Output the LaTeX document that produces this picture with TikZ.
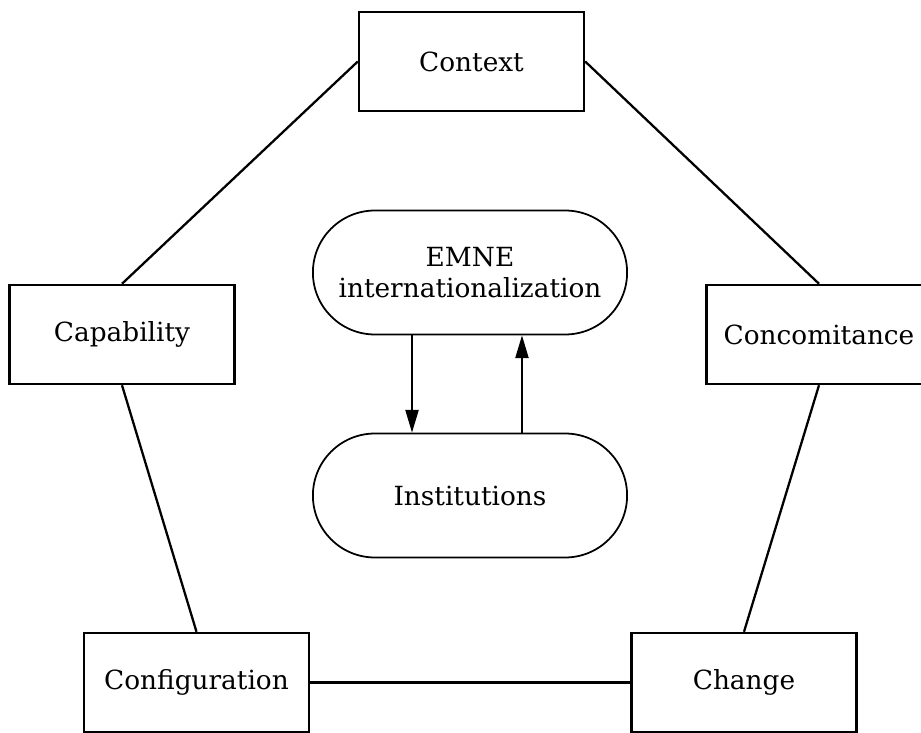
\documentclass[tikz,border=0pt]{standalone}
\usepackage{fontspec}
\setmainfont{DejaVu Serif}
\usetikzlibrary{shapes.misc,arrows.meta}

\tikzset{
  cbox/.style={draw,line width=1.4pt,minimum width=4.5cm,minimum height=1.98cm,font=\fontsize{15}{18}\selectfont},
  pill/.style={draw,rounded rectangle,line width=1pt,minimum width=6.52cm,minimum height=2.48cm,align=center,font=\fontsize{15}{17.5}\selectfont},
  link/.style={line width=1.3pt}
}

\begin{document}
\begin{tikzpicture}[x=0.02cm,y=-0.02cm]
\useasboundingbox (0,0) rectangle (921,733);
% the five C's
\node[cbox] (ctx) at (471.5,61.5) {Context};
\node[cbox] (cap) at (122,334.5) {Capability};
\node[cbox] (conc) at (819,334.5) {Concomitance};
\node[cbox] (conf) at (196.5,682.5) {Configuration};
\node[cbox] (chg) at (744,682.5) {Change};
% centre
\node[pill] (emne) at (470,272.5) {EMNE\\internationalization};
\node[pill] (inst) at (470,495.5) {Institutions};
\draw[link] (ctx.west) -- (cap.north);
\draw[link] (ctx.east) -- (conc.north);
\draw[link] (cap.south) -- (conf.north);
\draw[link] (conc.south) -- (chg.north);
\draw[link] (conf.east) -- (chg.west);
\draw[-{Triangle[length=13pt,width=7.5pt]},line width=1pt] ([xshift=-1.16cm]emne.south) -- ([xshift=-1.16cm]inst.north);
\draw[-{Triangle[length=13pt,width=7.5pt]},line width=1pt] ([xshift=1.04cm]inst.north) -- ([xshift=1.04cm]emne.south);
\end{tikzpicture}
\end{document}
